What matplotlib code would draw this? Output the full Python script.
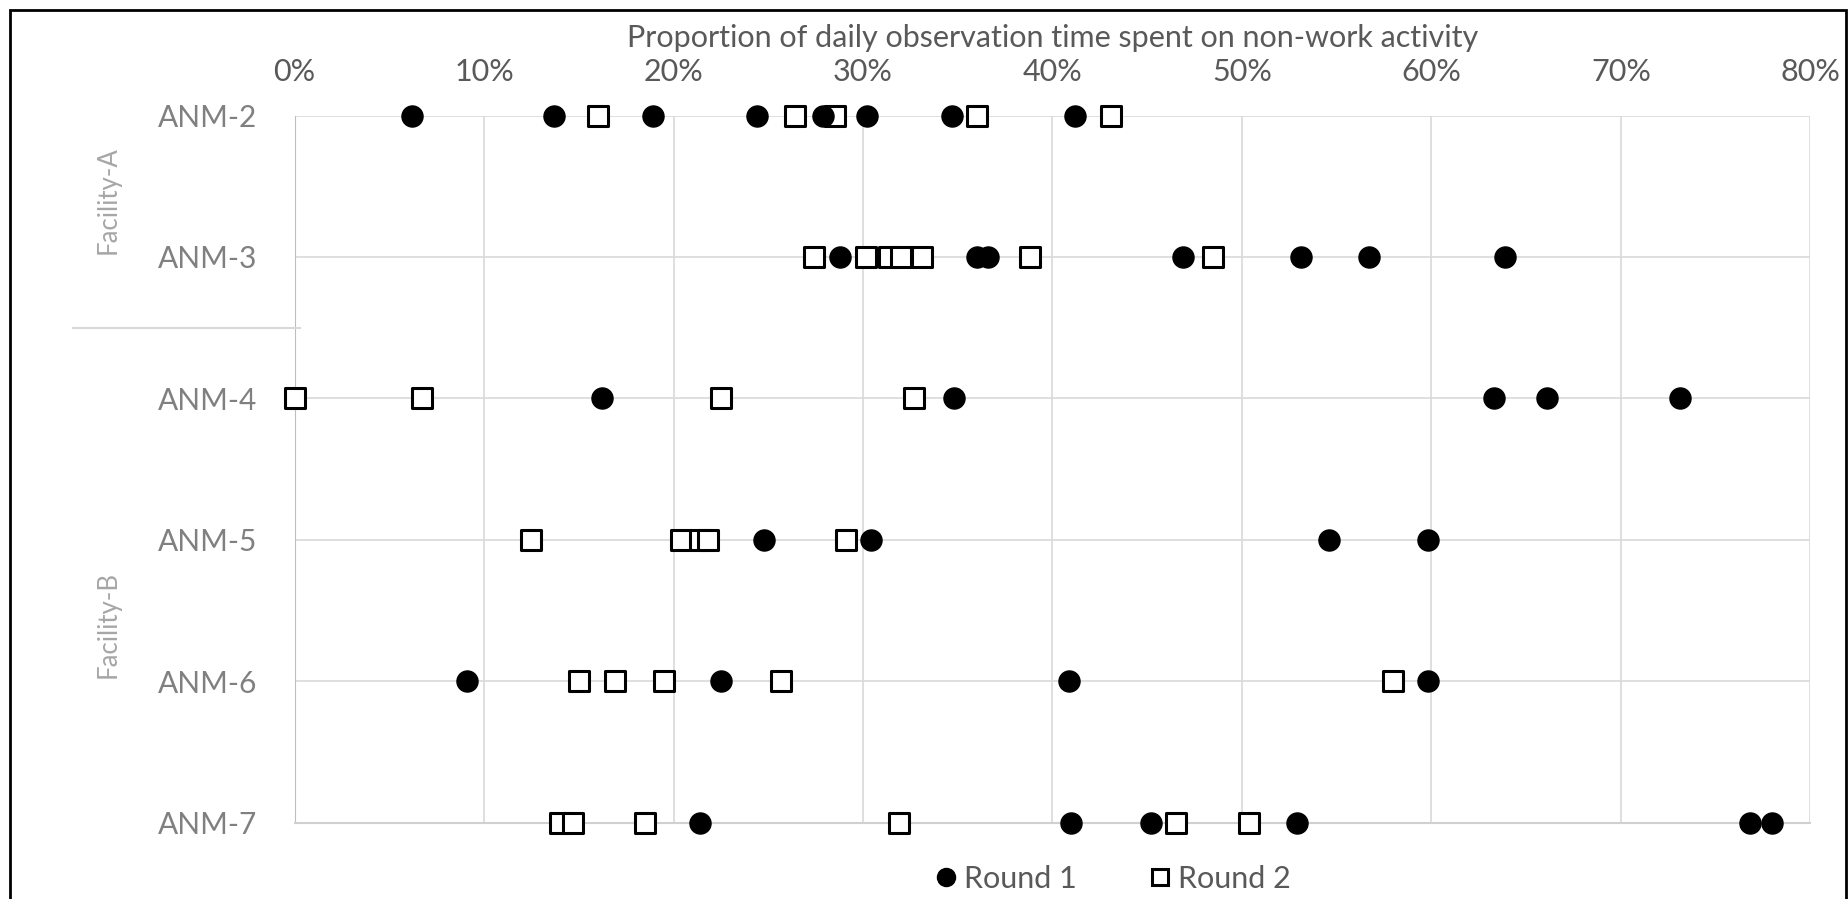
import numpy as np
import matplotlib.pyplot as plt
from matplotlib.ticker import PercentFormatter
from matplotlib.patches import Rectangle
from matplotlib.lines import Line2D

plt.rcParams['font.family'] = ['Lato', 'DejaVu Sans']

workers = ['ANM-2', 'ANM-3', 'ANM-4', 'ANM-5', 'ANM-6', 'ANM-7']

# share of observation time on non-work activity (%), one list per worker
round1 = [
    [6.2, 13.7, 18.9, 24.4, 27.9, 30.2, 34.7, 41.2],
    [28.8, 36.0, 36.6, 46.9, 53.1, 56.7, 63.9],
    [16.2, 34.8, 63.3, 66.1, 73.1],
    [24.8, 30.4, 54.6, 59.8],
    [9.1, 22.5, 40.9, 59.8],
    [21.4, 41.0, 45.2, 52.9, 76.8, 78.0],
]
round2 = [
    [16.0, 26.4, 28.5, 36.0, 43.1],
    [27.4, 30.15, 31.4, 32.0, 33.1, 38.8, 48.5],
    [0.0, 6.7, 22.5, 32.7],
    [12.5, 20.4, 21.4, 21.8, 29.1],
    [15.0, 16.9, 19.5, 25.7, 58.0],
    [14.0, 14.7, 18.5, 31.9, 46.5, 50.4],
]

fig = plt.figure(figsize=(18.48, 8.99), dpi=100)
ax = fig.add_axes([0.1594, 0.0849, 0.8202, 0.7866])

for i in range(len(workers)):
    ax.scatter(round2[i], [i] * len(round2[i]), s=195, marker='s', facecolor='white',
               edgecolor='black', linewidth=2.2, zorder=3, clip_on=False)
    ax.scatter(round1[i], [i] * len(round1[i]), s=230, marker='o', color='black',
               zorder=4, clip_on=False)

ax.set_xlim(0, 80)
ax.set_ylim(len(workers) - 1, 0)
ax.set_xticks(np.arange(0, 81, 10))
ax.xaxis.set_major_formatter(PercentFormatter(100, decimals=0))
ax.set_yticks(range(len(workers)))
ax.set_yticklabels(workers)
ax.xaxis.tick_top()
ax.xaxis.set_label_position('top')
ax.set_xlabel('Proportion of daily observation time spent on non-work activity',
              fontsize=22, color='#595959', labelpad=8)
ax.tick_params(axis='x', length=0, labelsize=22, labelcolor='#595959', pad=21)
ax.tick_params(axis='y', length=0, labelsize=21.5, labelcolor='#808080', pad=27)

ax.grid(True, color='#d9d9d9', linewidth=1.2, zorder=0)
ax.set_axisbelow(True)
for side in ['top', 'right']:
    ax.spines[side].set_visible(False)
ax.spines['left'].set_color('#bfbfbf')
ax.spines['bottom'].set_color('#d0d0d0')
ax.spines['bottom'].set_linewidth(1.5)

# facility groups on the left
fig.text(92 * 1.1786 / 1848, 1 - 170 * 1.1786 / 899, 'Facility-A', rotation=90,
         ha='center', va='center', fontsize=18.5, color='#a6a6a6')
fig.text(92 * 1.1786 / 1848, 1 - 530 * 1.1786 / 899, 'Facility-B', rotation=90,
         ha='center', va='center', fontsize=18.5, color='#a6a6a6')
fig.add_artist(Line2D([73 / 1848, 300 / 1848], [1 - 328 / 899, 1 - 328 / 899],
                      color='#d9d9d9', linewidth=1.5))

handles = [
    Line2D([], [], marker='o', linestyle='none', color='black', markersize=13),
    Line2D([], [], marker='s', linestyle='none', markerfacecolor='white',
           markeredgecolor='black', markeredgewidth=2.2, markersize=12),
]
leg = fig.legend(handles, ['Round 1', 'Round 2'], loc='center', ncol=2,
                 bbox_to_anchor=(0.601, 1 - 879 / 899), frameon=False, fontsize=22,
                 handletextpad=0.1, columnspacing=2.2, handlelength=1.0)
for t in leg.get_texts():
    t.set_color('#595959')

# outer frame
fig.add_artist(Rectangle((10 / 1848, -0.05), 1836 / 1848, 1.05 - 10 / 899,
                         fill=False, edgecolor='black', linewidth=2,
                         transform=fig.transFigure))

plt.savefig('out.png', dpi=100)
